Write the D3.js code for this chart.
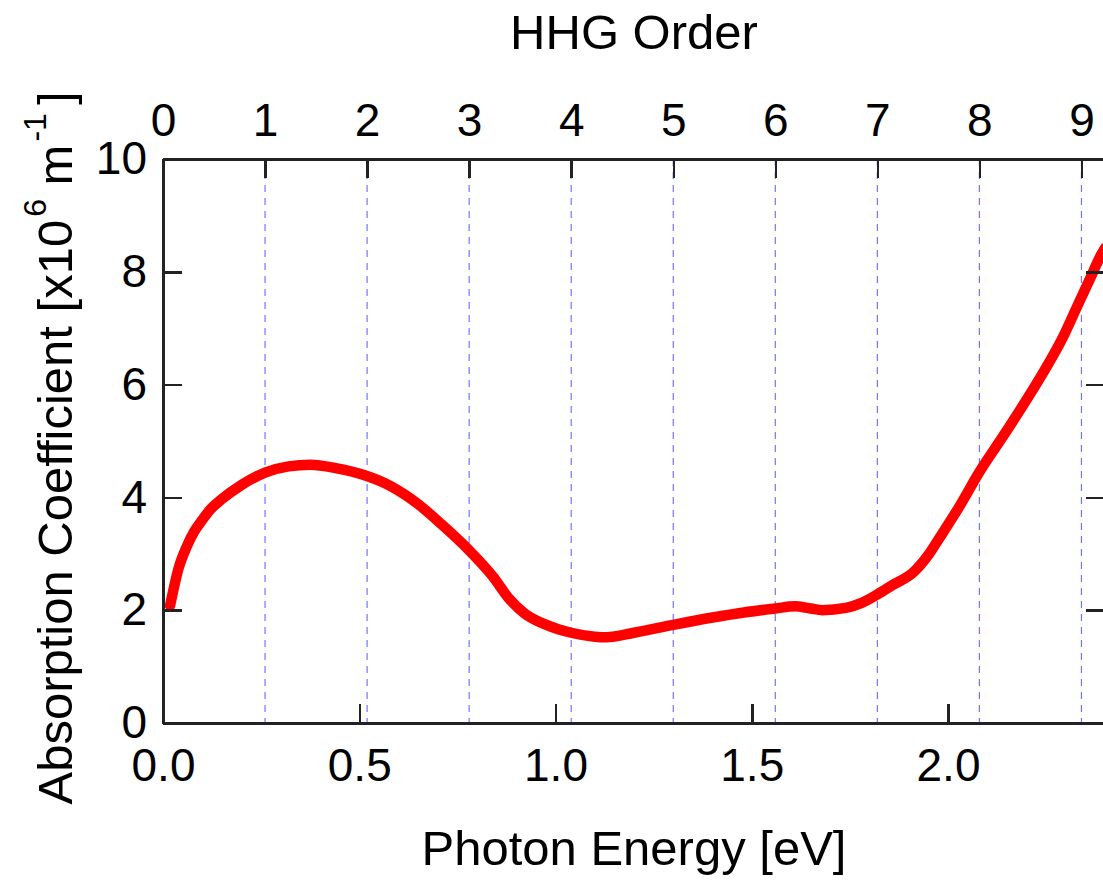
<!DOCTYPE html>
<meta charset="utf-8">
<style>
body { margin: 0; background: #fff; }
svg { display: block; font-family: "Liberation Sans", Arial, sans-serif; }
.axis path,
.axis line {
    stroke: #222;
    stroke-width: 2.5px;
    shape-rendering: crispEdges;
}
.axis text { font-size: 46px; fill: #000; font-family: "Liberation Sans", Arial, sans-serif; }
.grid line {
    stroke: #7474ff;
    stroke-width: 1.2px;
    stroke-dasharray: 7,6;
}
.curve {
    fill: none;
    stroke: #ff0000;
    stroke-width: 10.5px;
    stroke-linejoin: round;
    stroke-linecap: round;
}
.title { font-size: 49px; fill: #000; }
</style>
<body>
<div id="chart"></div>
<script src="https://d3js.org/d3.v7.min.js"></script>
<script>
// photon energy [eV] and absorption coefficient [x10^6 m^-1]
var energy = [0.018, 0.04, 0.06, 0.08, 0.10, 0.12, 0.15, 0.20, 0.26, 0.32,
    0.375, 0.44, 0.51, 0.58, 0.65, 0.71, 0.78, 0.84, 0.88, 0.92,
    0.98, 1.04, 1.10, 1.13, 1.20, 1.30, 1.40, 1.48, 1.56, 1.61,
    1.65, 1.68, 1.74, 1.78, 1.82, 1.86, 1.91, 1.95, 1.98, 2.03,
    2.08, 2.14, 2.20, 2.25, 2.29, 2.33, 2.36, 2.39, 2.40];
var absorb = [2.08, 2.75, 3.12, 3.40, 3.60, 3.78, 3.97, 4.22, 4.44, 4.55,
    4.58, 4.52, 4.40, 4.20, 3.88, 3.52, 3.06, 2.60, 2.22, 1.95,
    1.73, 1.60, 1.53, 1.52, 1.60, 1.74, 1.87, 1.96, 2.03, 2.07,
    2.03, 2.00, 2.04, 2.13, 2.28, 2.45, 2.66, 2.98, 3.30, 3.85,
    4.45, 5.08, 5.73, 6.30, 6.80, 7.40, 7.85, 8.30, 8.42];

var xTicks = [0, 0.5, 1.0, 1.5, 2.0];
var yTicks = [0, 2, 4, 6, 8, 10];
var orderTicks = [0, 1, 2, 3, 4, 5, 6, 7, 8, 9];
var eVperOrder = 0.26;   // fundamental photon energy

var W = 1103, H = 882;
var pLeft = 163, pRight = 1105, pTop = 159, pBottom = 723;
var xMax = 2.4, yMax = 10;

var x = d3.scaleLinear().domain([0, xMax]).range([pLeft, pRight]);
var xOrder = d3.scaleLinear().domain([0, xMax / eVperOrder]).range([pLeft, pRight]);
var y = d3.scaleLinear().domain([0, yMax]).range([pBottom, pTop]);

var svg = d3.select("#chart").append("svg")
    .attr("width", W)
    .attr("height", H);

svg.append("defs").append("clipPath")
    .attr("id", "plotclip")
    .append("rect")
    .attr("x", pLeft).attr("y", pTop)
    .attr("width", pRight - pLeft).attr("height", pBottom - pTop);

// dashed lines at each harmonic order
svg.append("g")
    .attr("class", "grid")
    .selectAll("line")
    .data(orderTicks.filter(function(d) { return d > 0; }))
    .enter().append("line")
    .attr("x1", function(d) { return xOrder(d); })
    .attr("x2", function(d) { return xOrder(d); })
    .attr("y1", pTop)
    .attr("y2", pBottom);

var data = energy.map(function(e, i) { return [e, absorb[i]]; });

var line = d3.line()
    .x(function(d) { return x(d[0]); })
    .y(function(d) { return y(d[1]); })
    .curve(d3.curveMonotoneX);

svg.append("path")
    .datum(data)
    .attr("class", "curve")
    .attr("clip-path", "url(#plotclip)")
    .attr("d", line);

// axes, ticks pointing inward
svg.append("g")
    .attr("class", "axis")
    .attr("transform", "translate(0," + pBottom + ")")
    .call(d3.axisBottom(x).tickValues(xTicks).tickFormat(d3.format(".1f"))
        .tickSizeInner(-19).tickSizeOuter(0).tickPadding(25));

svg.append("g")
    .attr("class", "axis")
    .attr("transform", "translate(0," + pTop + ")")
    .call(d3.axisTop(xOrder).tickValues(orderTicks).tickFormat(d3.format("d"))
        .tickSizeInner(-19).tickSizeOuter(0).tickPadding(23));

svg.append("g")
    .attr("class", "axis")
    .attr("transform", "translate(" + pLeft + ",0)")
    .call(d3.axisLeft(y).tickValues(yTicks)
        .tickSizeInner(-19).tickSizeOuter(0).tickPadding(16));

svg.append("g")
    .attr("class", "axis")
    .attr("transform", "translate(" + pRight + ",0)")
    .call(d3.axisRight(y).tickValues(yTicks).tickFormat("")
        .tickSizeInner(-19).tickSizeOuter(0));

// titles
svg.append("text")
    .attr("class", "title")
    .attr("x", (pLeft + pRight) / 2)
    .attr("y", 49)
    .attr("text-anchor", "middle")
    .text("HHG Order");

svg.append("text")
    .attr("class", "title")
    .attr("x", (pLeft + pRight) / 2)
    .attr("y", 865)
    .attr("text-anchor", "middle")
    .text("Photon Energy [eV]");

var yt = svg.append("text")
    .attr("class", "title")
    .attr("text-anchor", "middle")
    .attr("transform", "translate(72," + 448 + ") rotate(-90)");
yt.append("tspan").text("Absorption Coefficient [x10");
yt.append("tspan").attr("font-size", "32px").attr("dy", -26).attr("dx", 3).text("6");
yt.append("tspan").attr("dy", 26).text(" m");
yt.append("tspan").attr("font-size", "32px").attr("dy", -26).attr("dx", 3).text("-1");
yt.append("tspan").attr("dy", 26).attr("dx", 8).text("]");
</script>
</body>
